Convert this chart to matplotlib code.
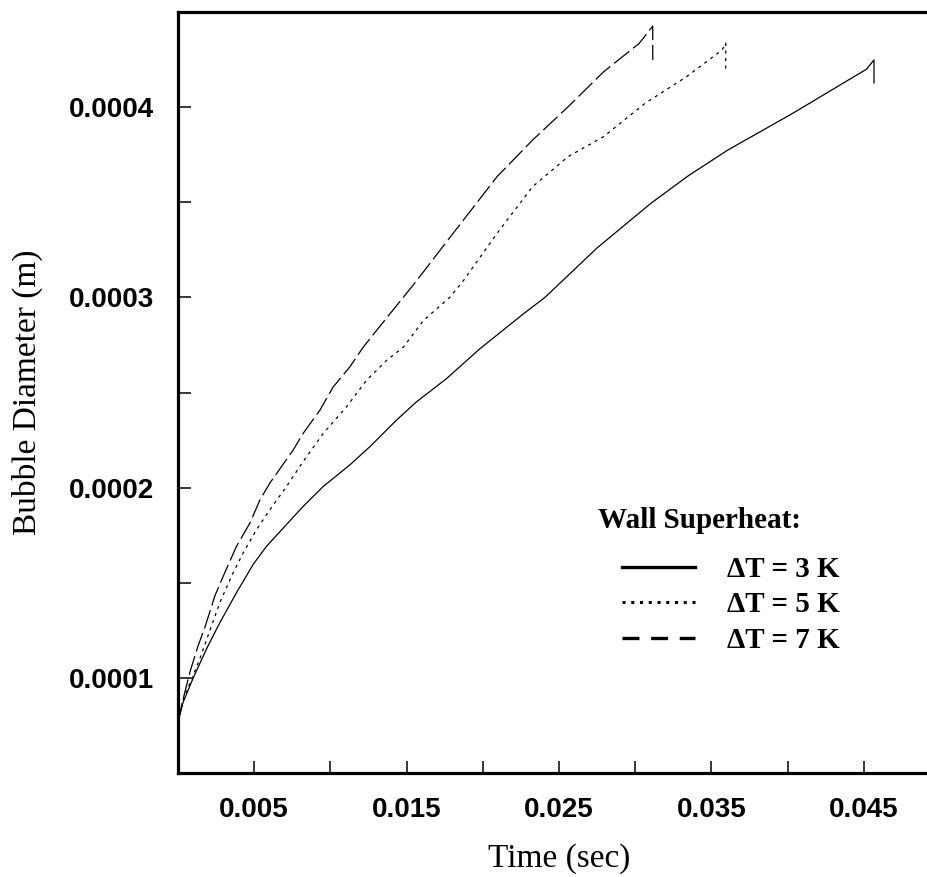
import matplotlib
matplotlib.use("Agg")
import matplotlib.pyplot as plt

plt.rcParams["lines.scale_dashes"] = False

# Bubble growth curves: time (s) vs bubble diameter (m) for three wall superheats
t_3K = [0, 0.00034, 0.001, 0.00187, 0.00275, 0.00384, 0.00493, 0.00581, 0.00712,
        0.00821, 0.00953, 0.01127, 0.01259, 0.01434, 0.01565, 0.01762, 0.01981,
        0.02266, 0.02408, 0.0275, 0.03104, 0.0335, 0.03609, 0.04035, 0.04519,
        0.04567, 0.04567]
d_3K = [7.68e-5, 8.73e-5, 1.0e-4, 1.152e-4, 1.291e-4, 1.448e-4, 1.596e-4, 1.692e-4,
        1.806e-4, 1.901e-4, 2.006e-4, 2.119e-4, 2.215e-4, 2.355e-4, 2.451e-4,
        2.573e-4, 2.73e-4, 2.913e-4, 3.0e-4, 3.26e-4, 3.495e-4, 3.64e-4, 3.775e-4,
        3.968e-4, 4.2e-4, 4.248e-4, 4.127e-4]

t_5K = [0, 0.00034, 0.00143, 0.0022, 0.00275, 0.00351, 0.00428, 0.00515, 0.00603,
        0.00712, 0.00821, 0.00953, 0.01106, 0.01237, 0.01369, 0.01478, 0.0161,
        0.01783, 0.01872, 0.02094, 0.02327, 0.0256, 0.02793, 0.03065, 0.03337,
        0.0357, 0.03594, 0.03594]
d_5K = [7.68e-5, 8.85e-5, 1.10e-4, 1.274e-4, 1.396e-4, 1.535e-4, 1.657e-4, 1.779e-4,
        1.884e-4, 2.006e-4, 2.137e-4, 2.285e-4, 2.425e-4, 2.564e-4, 2.669e-4,
        2.738e-4, 2.878e-4, 3.0e-4, 3.087e-4, 3.337e-4, 3.582e-4, 3.74e-4, 3.845e-4,
        4.02e-4, 4.16e-4, 4.3e-4, 4.337e-4, 4.185e-4]

t_7K = [0, 0.00034, 0.00078, 0.00132, 0.00176, 0.00242, 0.00297, 0.00384, 0.00472,
        0.00538, 0.00603, 0.00756, 0.00821, 0.00931, 0.01018, 0.01127, 0.01215,
        0.0139, 0.01478, 0.01565, 0.01822, 0.02094, 0.02327, 0.0256, 0.02793,
        0.03026, 0.03115, 0.03115]
d_7K = [7.68e-5, 8.9e-5, 1.03e-4, 1.169e-4, 1.265e-4, 1.431e-4, 1.535e-4, 1.692e-4,
        1.814e-4, 1.936e-4, 2.024e-4, 2.198e-4, 2.285e-4, 2.407e-4, 2.529e-4,
        2.634e-4, 2.738e-4, 2.913e-4, 3.0e-4, 3.087e-4, 3.354e-4, 3.635e-4, 3.827e-4,
        4.002e-4, 4.186e-4, 4.335e-4, 4.426e-4, 4.248e-4]

series_labels = ["\u0394T = 3 K", "\u0394T = 5 K", "\u0394T = 7 K"]
legend_title = "Wall Superheat:"

x_major = [0.005, 0.015, 0.025, 0.035, 0.045]
x_minor = [0.01, 0.02, 0.03, 0.04, 0.05]
y_major = [0.0001, 0.0002, 0.0003, 0.0004]
y_minor = [0.00015, 0.00025, 0.00035]

W, H = 928, 877
fig = plt.figure(figsize=(W / 100, H / 100), dpi=100)
ax = fig.add_axes([178 / W, (H - 773) / H, 762 / W, 761 / H])

l3, = ax.plot(t_3K, d_3K, color="black", lw=0.9, ls="-")
l5, = ax.plot(t_5K, d_5K, color="black", lw=0.9, ls=(0, (2.2, 3.2)))
l7, = ax.plot(t_7K, d_7K, color="black", lw=0.9, ls=(0, (14, 3.5)))

ax.set_xlim(0, 0.05)
ax.set_ylim(0.00005, 0.00045)

for s in ax.spines.values():
    s.set_linewidth(2.3)

tick_font = {"family": "Liberation Sans", "weight": "bold", "size": 20}
ax.set_xticks(x_major)
ax.set_xticklabels([f"{v:.3f}" for v in x_major], fontdict=tick_font)
ax.set_xticks(x_minor, minor=True)
ax.set_yticks(y_major)
ax.set_yticklabels([f"{v:.4f}" for v in y_major], fontdict=tick_font)
ax.set_yticks(y_minor, minor=True)
ax.tick_params(which="both", direction="in", length=9, width=1.1,
               top=False, right=False, pad=17)

label_font = {"family": "Liberation Serif", "size": 24}
ax.set_xlabel("Time (sec)", fontdict=label_font, va="center")
ax.set_ylabel("Bubble Diameter (m)", fontdict=label_font, va="center")
ax.xaxis.set_label_coords(0.5, -(859 - 773) / 761)
ax.yaxis.set_label_coords(-(178 - 27) / 762, 0.5)

fig.text(598 / W, 1 - 520 / H, legend_title, ha="left", va="center",
         family="Liberation Serif", weight="bold", size=21)
leg = ax.legend([l3, l5, l7], series_labels, loc="upper left",
                bbox_to_anchor=(622 / W, 1 - 556 / H), bbox_transform=fig.transFigure,
                frameon=False, borderpad=0, borderaxespad=0,
                handlelength=2.5, handletextpad=1.1, labelspacing=0.29,
                prop={"family": "Liberation Serif", "weight": "bold", "size": 21})
h3, h5, h7 = leg.get_lines()
h3.set_linewidth(2.4)
h5.set_linewidth(2.2)
h5.set_linestyle((0, (2.2, 4.1)))
h7.set_linewidth(2.4)
h7.set_linestyle((0, (12.2, 8.4)))

fig.savefig("out.png", dpi=100)
